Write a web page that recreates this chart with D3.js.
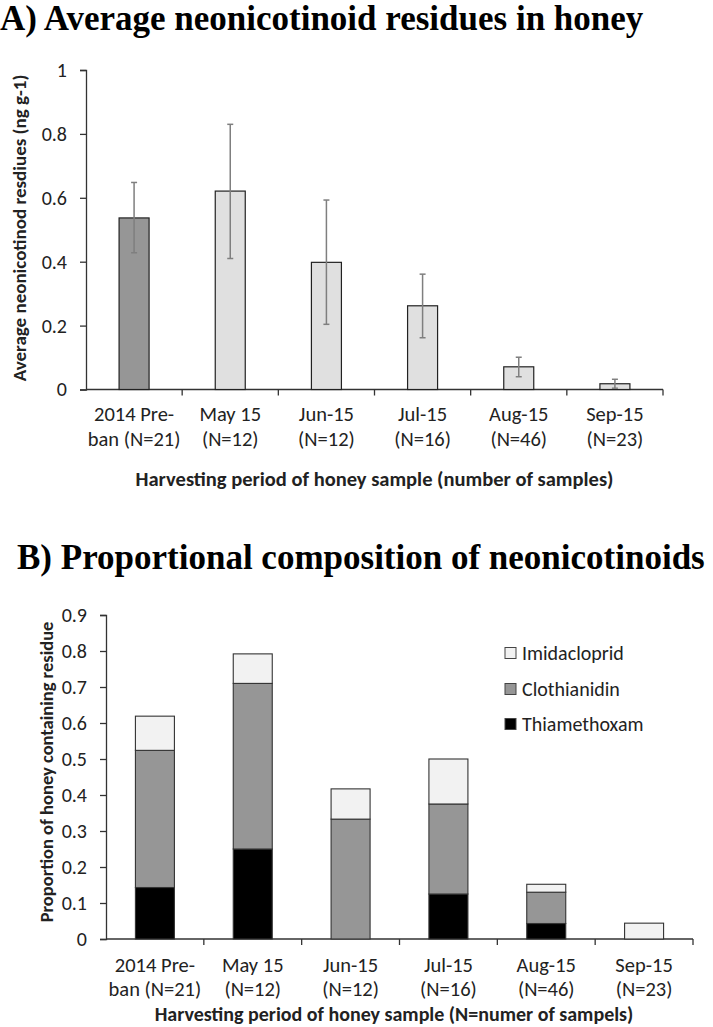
<!DOCTYPE html>
<html>
<head>
<meta charset="utf-8">
<script src="https://cdn.jsdelivr.net/npm/d3@7"></script>
<style>
  html, body { margin: 0; padding: 0; background: #fff; }
  svg { display: block; }
  .sans { font-family: Carlito, Calibri, Lato, "Open Sans", sans-serif; }
  .serif { font-family: "Liberation Serif", "Times New Roman", serif; }
</style>
</head>
<body>
<svg id="chart" width="713" height="1027"></svg>
<script>
// ---------- data ----------
const categoryLine1 = ["2014 Pre-", "May 15", "Jun-15", "Jul-15", "Aug-15", "Sep-15"];
const categoryLine2 = ["ban (N=21)", "(N=12)", "(N=12)", "(N=16)", "(N=46)", "(N=23)"];
const categories = ["pre", "may", "jun", "jul", "aug", "sep"];

// Panel A: average residue with error bars
const meanResidue = [0.537, 0.621, 0.398, 0.262, 0.071, 0.018];
const errUpper    = [0.648, 0.830, 0.593, 0.361, 0.101, 0.032];
const errLower    = [0.428, 0.410, 0.204, 0.162, 0.040, 0.004];
const ticksA = [0, 0.2, 0.4, 0.6, 0.8, 1];
const tickLabelsA = ["0", "0.2", "0.4", "0.6", "0.8", "1"];

// Panel B: proportional composition (stacked)
const thiamethoxam = [0.143, 0.250, 0.000, 0.125, 0.043, 0.000];
const clothianidin = [0.381, 0.460, 0.333, 0.250, 0.087, 0.000];
const imidacloprid = [0.095, 0.082, 0.084, 0.125, 0.022, 0.044];
const seriesNames = ["Thiamethoxam", "Clothianidin", "Imidacloprid"];
const ticksB = [0, 0.1, 0.2, 0.3, 0.4, 0.5, 0.6, 0.7, 0.8, 0.9];
const tickLabelsB = ["0", "0.1", "0.2", "0.3", "0.4", "0.5", "0.6", "0.7", "0.8", "0.9"];

// ---------- drawing ----------
const svg = d3.select("#chart");
const axisColor = "#333";
const txt = "#222";

function drawAxes(g, x, y, ticks, tickLabels, x0, x1, yBase) {
  const yAxis = d3.axisLeft(y).tickValues(ticks).tickFormat((d, i) => tickLabels[i])
    .tickSize(6).tickPadding(13);
  const ga = g.append("g").attr("transform", `translate(${x0},0)`).call(yAxis);
  ga.attr("font-family", null).attr("font-size", null);
  ga.select(".domain").attr("stroke", axisColor).attr("stroke-width", 1.3);
  ga.selectAll(".tick line").attr("stroke", axisColor).attr("stroke-width", 1.3);
  ga.selectAll(".tick text").attr("class", "sans").attr("font-size", 20).attr("fill", txt);

  g.append("line").attr("x1", x0).attr("x2", x1).attr("y1", yBase).attr("y2", yBase)
    .attr("stroke", axisColor).attr("stroke-width", 1.3);
  const bounds = categories.map(c => x(c) + x.step());
  g.selectAll(null).data(bounds).enter().append("line")
    .attr("x1", d => d).attr("x2", d => d).attr("y1", yBase).attr("y2", yBase + 6)
    .attr("stroke", axisColor).attr("stroke-width", 1.3);
}

function drawCategoryLabels(g, x, yl1, yl2) {
  const cx = c => x(c) + x.bandwidth() / 2;
  g.selectAll(null).data(categories).enter().append("text").attr("class", "sans")
    .attr("x", cx).attr("y", yl1).attr("text-anchor", "middle").attr("font-size", 20.5).attr("fill", txt)
    .text((d, i) => categoryLine1[i]);
  g.selectAll(null).data(categories).enter().append("text").attr("class", "sans")
    .attr("x", cx).attr("y", yl2).attr("text-anchor", "middle").attr("font-size", 20.5).attr("fill", txt)
    .text((d, i) => categoryLine2[i]);
}

// ===== Panel A =====
const gA = svg.append("g");
gA.append("text").attr("class", "serif").attr("x", 0).attr("y", 30)
  .attr("font-size", 35).attr("font-weight", "bold").attr("fill", "#000")
  .text("A) Average neonicotinoid residues in honey");

const xA = d3.scaleBand().domain(categories).range([86, 663]).paddingInner(0).paddingOuter(0);
const yA = d3.scaleLinear().domain([0, 1]).range([389.5, 70]);
const barWA = 30;

drawAxes(gA, xA, yA, ticksA, tickLabelsA, 86, 663, 389.5);

gA.selectAll(null).data(categories).enter().append("rect")
  .attr("x", d => xA(d) + xA.bandwidth() / 2 - barWA / 2)
  .attr("width", barWA)
  .attr("y", (d, i) => yA(meanResidue[i]))
  .attr("height", (d, i) => yA(0) - yA(meanResidue[i]))
  .attr("fill", (d, i) => i === 0 ? "#969696" : "#e0e0e0")
  .attr("stroke", "#222").attr("stroke-width", 1.2);

const errG = gA.append("g").attr("stroke", "#7f7f7f").attr("stroke-width", 1.5);
categories.forEach((c, i) => {
  const cx = xA(c) + xA.bandwidth() / 2;
  errG.append("line").attr("x1", cx).attr("x2", cx).attr("y1", yA(errUpper[i])).attr("y2", yA(errLower[i]));
  errG.append("line").attr("x1", cx - 3).attr("x2", cx + 3).attr("y1", yA(errUpper[i])).attr("y2", yA(errUpper[i]));
  errG.append("line").attr("x1", cx - 3).attr("x2", cx + 3).attr("y1", yA(errLower[i])).attr("y2", yA(errLower[i]));
});

drawCategoryLabels(gA, xA, 421, 446);

gA.append("text").attr("class", "sans").attr("x", (133 + 616) / 2).attr("y", 486)
  .attr("text-anchor", "middle").attr("font-size", 20.5).attr("font-weight", "bold").attr("fill", txt)
  .text("Harvesting period of honey sample (number of samples)");

gA.append("text").attr("class", "sans")
  .attr("transform", "translate(26,228) rotate(-90)")
  .attr("text-anchor", "middle").attr("font-size", 19).attr("font-weight", "bold").attr("fill", txt)
  .text("Average neonicotinod resdiues (ng g-1)");

// ===== Panel B =====
const gB = svg.append("g");
gB.append("text").attr("class", "serif").attr("x", 17).attr("y", 569)
  .attr("font-size", 35).attr("font-weight", "bold").attr("fill", "#000")
  .text("B) Proportional composition of neonicotinoids");

const xB = d3.scaleBand().domain(categories).range([106, 693]).paddingInner(0).paddingOuter(0);
const yB = d3.scaleLinear().domain([0, 0.9]).range([939, 615]);
const barWB = 39;

drawAxes(gB, xB, yB, ticksB, tickLabelsB, 106, 693, 939);

const tableB = categories.map((c, i) => ({
  cat: c, Thiamethoxam: thiamethoxam[i], Clothianidin: clothianidin[i], Imidacloprid: imidacloprid[i]
}));
const stacked = d3.stack().keys(seriesNames)(tableB);
const colorB = d3.scaleOrdinal().domain(seriesNames).range(["#000000", "#969696", "#f2f2f2"]);

stacked.forEach(layer => {
  gB.selectAll(null).data(layer.filter(d => d[1] - d[0] > 0)).enter().append("rect")
    .attr("x", d => xB(d.data.cat) + xB.bandwidth() / 2 - barWB / 2)
    .attr("width", barWB)
    .attr("y", d => yB(d[1]))
    .attr("height", d => yB(d[0]) - yB(d[1]))
    .attr("fill", colorB(layer.key))
    .attr("stroke", "#333").attr("stroke-width", 1.1);
});

const legendOrder = ["Imidacloprid", "Clothianidin", "Thiamethoxam"];
const legendY = [653, 689, 724];
legendOrder.forEach((name, i) => {
  gB.append("rect").attr("x", 505).attr("y", legendY[i] - 5.5).attr("width", 11).attr("height", 11)
    .attr("fill", colorB(name)).attr("stroke", "#444").attr("stroke-width", 1);
  gB.append("text").attr("class", "sans").attr("x", 522).attr("y", legendY[i] + 7)
    .attr("font-size", 20).attr("fill", txt).text(name);
});

drawCategoryLabels(gB, xB, 972, 996);

gB.append("text").attr("class", "sans").attr("x", (160 + 628) / 2).attr("y", 1021)
  .attr("text-anchor", "middle").attr("font-size", 20).attr("font-weight", "bold").attr("fill", txt)
  .text("Harvesting period of honey sample (N=numer of sampels)");

gB.append("text").attr("class", "sans")
  .attr("transform", "translate(53,772) rotate(-90)")
  .attr("text-anchor", "middle").attr("font-size", 18.5).attr("font-weight", "bold").attr("fill", txt)
  .text("Proportion of honey containing residue");
</script>
</body>
</html>
